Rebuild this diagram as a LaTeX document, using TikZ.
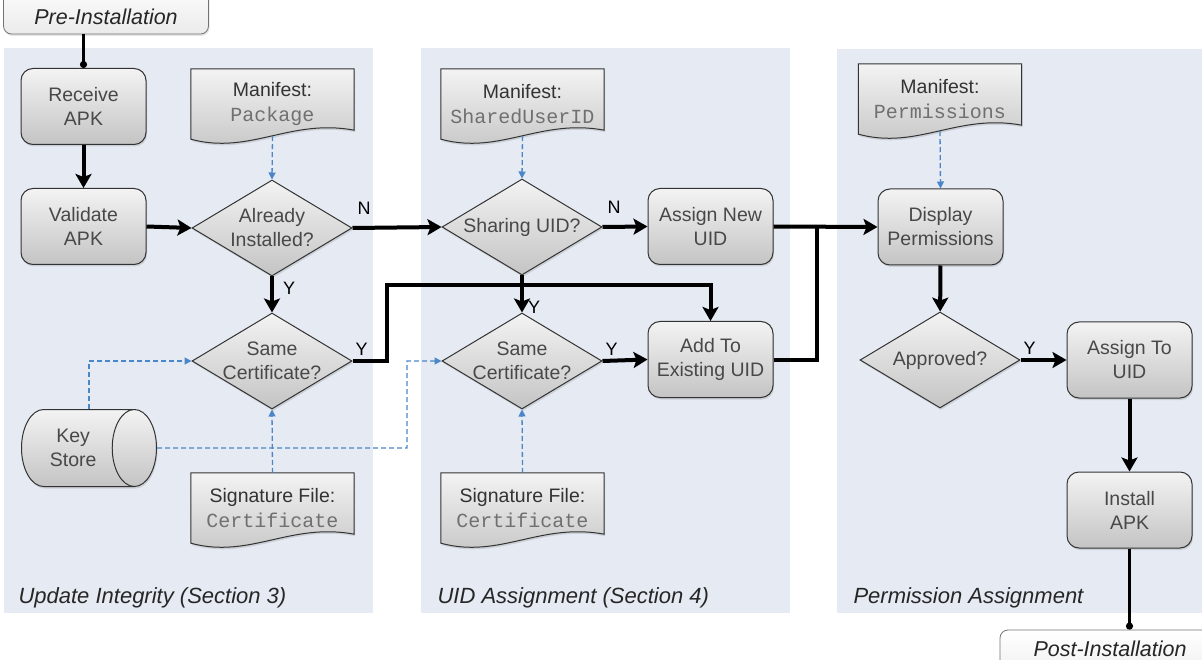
\documentclass[tikz,border=0pt]{standalone}
\usepackage{fontspec}
\setmainfont{Liberation Sans}
\newfontfamily\codefont{Liberation Mono}
\usetikzlibrary{arrows.meta,positioning,shapes.geometric,shadows}
\definecolor{panelbg}{RGB}{229,234,243}
\definecolor{boxtop}{RGB}{243,243,243}
\definecolor{boxbot}{RGB}{196,196,196}
\definecolor{boxtxt}{RGB}{72,72,72}
\definecolor{codetxt}{RGB}{112,112,112}
\definecolor{linkblue}{RGB}{74,134,200}
\pgfdeclarelayer{panels}
\pgfdeclarelayer{docs}
\pgfsetlayers{panels,docs,main}
\newcommand{\code}[1]{{\codefont\fontsize{20}{25}\selectfont\color{codetxt}#1}}
\tikzset{
  base/.style={draw=black!80, line width=1pt, top color=boxtop, bottom color=boxbot,
    drop shadow={opacity=0.25, shadow xshift=1pt, shadow yshift=-2pt},
    text=boxtxt, font=\fontsize{19.5}{24}\selectfont, align=center},
  process/.style={base, rounded corners=12pt, minimum width=125pt, minimum height=76pt},
  decide/.style={base, diamond, minimum width=160pt, minimum height=96pt, inner sep=0pt},
  dtext/.style={text=boxtxt, font=\fontsize{19.5}{24}\selectfont, align=center},
  doc/.style={minimum width=163pt, minimum height=70pt, text=black!80,
    font=\fontsize{19.5}{25}\selectfont, align=center},
  docshape/.style={draw=black!80, line width=1pt, top color=boxtop, bottom color=boxbot,
    drop shadow={opacity=0.25, shadow xshift=1pt, shadow yshift=-2pt}},
  store/.style={base, cylinder, shape aspect=1, minimum width=77pt, minimum height=135pt},
  term/.style={draw=black!55, line width=0.8pt, rounded corners=8pt, top color=white,
    bottom color=black!8, drop shadow={opacity=0.2, shadow xshift=1pt, shadow yshift=-2pt},
    font=\fontsize{21.5}{22}\selectfont\itshape, text=black!85},
  flow/.style={line width=4pt, -{Stealth[length=14pt,width=16pt,inset=3pt]}},
  joinline/.style={line width=4pt},
  dep/.style={linkblue, line width=1.3pt, dash pattern=on 5pt off 3pt,
    -{Triangle[length=7pt,width=7pt]}},
  yn/.style={font=\fontsize{18}{18}\selectfont, inner sep=1pt},
  area/.style={font=\fontsize{22}{22}\selectfont\itshape, text=black!85, anchor=base west},
}
\begin{document}
\begin{tikzpicture}[x=1pt,y=-1pt]
  \useasboundingbox (0,0) rectangle (1202,660);
  \clip (0,0) rectangle (1202,660);

  \begin{pgfonlayer}{panels}
    \fill[panelbg] (4,48) rectangle (373,613);
    \fill[panelbg] (421,48) rectangle (790,613);
    \fill[panelbg] (837,49) rectangle (1202,613);
  \end{pgfonlayer}

  \node[term, minimum width=205pt, text height=40pt, text depth=5pt, inner ysep=4pt, anchor=base] (pre) at (106,25) {Pre-Installation};
  \node[term, minimum width=220pt, text height=22pt, text depth=30pt, inner ysep=4pt, anchor=base] (post) at (1110,656) {Post-Installation};

  \node[process] (recv) at (83.5,106.5) {Receive\\APK};
  \node[process] (valid) at (83.5,226.5) {Validate\\APK};
  \node[doc] (maniPkg) at (272.5,104) {Manifest:\\\code{Package}};
  \node[decide, label={[dtext]center:Already\\Installed?}] (alrInst) at (272,228) {};
  \node[decide, label={[dtext]center:Same\\Certificate?}] (sameCertA) at (272,361) {};
  \node[store, anchor=shape center] (keyStore) at (89,448) {Key\\Store};
  \node[doc] (sigA) at (272.5,508) {Signature File:\\\code{Certificate}};
  \node[area] (areaA) at (15,603) {Update Integrity (Section 3)};

  \node[doc] (maniUid) at (522.5,104) {Manifest:\\\code{SharedUserID}};
  \node[decide, label={[dtext]center:Sharing UID?}] (shareUid) at (522,227) {};
  \node[process] (newUid) at (710.5,226.5) {Assign New\\UID};
  \node[decide, label={[dtext]center:Same\\Certificate?}] (sameCertB) at (522,361) {};
  \node[process] (addUid) at (710.5,359.5) {Add To\\Existing UID};
  \node[doc] (sigB) at (522.5,508) {Signature File:\\\code{Certificate}};
  \node[area] (areaB) at (434,603) {UID Assignment (Section 4)};

  \node[doc] (maniPerm) at (940,99) {Manifest:\\\code{Permissions}};
  \node[process] (dispPerm) at (940.5,227) {Display\\Permissions};
  \node[decide, label={[dtext]center:Approved?}] (approve) at (940,360) {};
  \node[process] (assignUid) at (1129.5,360) {Assign To\\UID};
  \node[process] (install) at (1129.5,510) {Install\\APK};
  \node[area] (areaC) at (850,603) {Permission Assignment};

  \begin{pgfonlayer}{docs}
    \foreach \d in {maniPkg,maniUid,maniPerm,sigA,sigB}
      \draw[docshape] (\d.north west) -- (\d.north east) -- ([yshift=9pt]\d.south east)
        .. controls ([xshift=-64pt,yshift=21pt]\d.south east) and ([xshift=59pt,yshift=-16pt]\d.south west) .. (\d.south west) -- cycle;
  \end{pgfonlayer}

  \coordinate (upA) at (387,285);
  \coordinate (mrg) at (817,227);
  \coordinate (kbend) at (407,448);

  \draw[line width=2.5pt, -{Circle[length=7pt]}] (recv.north |- pre.south) -- (recv.north);
  \draw[flow] (recv) -- (valid);
  \draw[flow] (valid.east) -- (alrInst.west);
  \draw[flow] (alrInst.east) node[yn, above right=10pt and 2pt] {N} -- (shareUid.west);
  \draw[flow] (alrInst.south) node[yn, below right=3pt and 8pt] {Y} -- (sameCertA.north);
  \draw[flow] (sameCertA.east) node[yn, above right=3pt and 0pt] {Y} -| (upA) -| (addUid.north);
  \draw[flow] (shareUid.south) -- (sameCertB.north) node[yn, above right=-4pt and 3pt] {Y};
  \draw[flow] (shareUid.east) node[yn, above right=10pt and 2pt] {N} -- (newUid.west);
  \draw[flow] (sameCertB.east) node[yn, above right=3pt and 0pt] {Y} -- (addUid.west);
  \draw[flow] (newUid.east) -- (dispPerm.west);
  \draw[joinline] (addUid.east) -| (mrg);
  \draw[flow] (dispPerm) -- (approve);
  \draw[flow] (approve.east) node[yn, above right=3pt and 0pt] {Y} -- (assignUid.west);
  \draw[flow] (assignUid) -- (install);
  \draw[line width=2.5pt, -{Circle[length=7pt]}] (install.south) -- (install.south |- post.north);

  \draw[dep] ([yshift=3pt]maniPkg.south) -- (alrInst.north);
  \draw[dep] ([yshift=3pt]maniUid.south) -- (shareUid.north);
  \draw[dep] ([yshift=3pt]maniPerm.south) -- (dispPerm.north);
  \draw[dep] (sigA.north) -- (sameCertA.south);
  \draw[dep] (sigB.north) -- (sameCertB.south);
  \draw[dep] (keyStore.shape center |- keyStore.north) |- (sameCertA.west);
  \draw[dep] (keyStore.east) -- (kbend) |- (sameCertB.west);
\end{tikzpicture}
\end{document}
